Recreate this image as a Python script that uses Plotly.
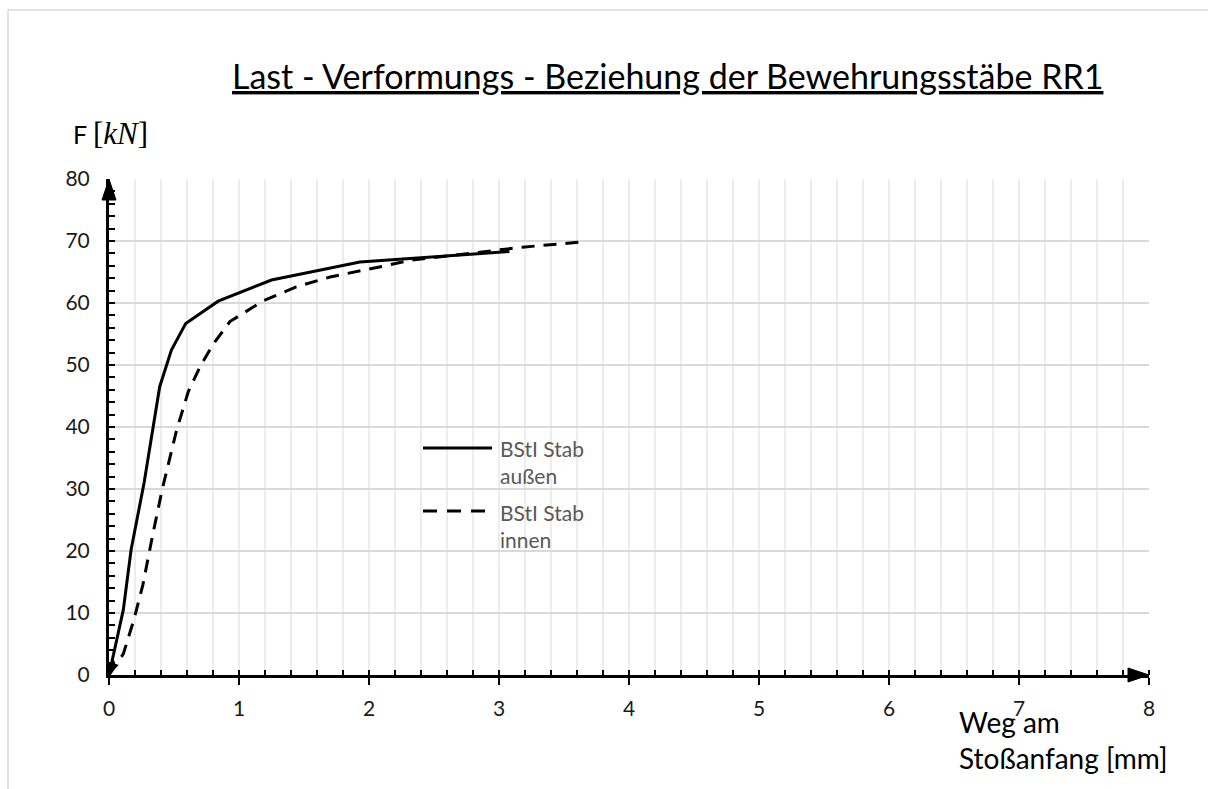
import plotly.graph_objects as go

# Last-Verformungs-Daten (Weg in mm, Last in kN)
weg_aussen = [0, 0.11, 0.17, 0.27, 0.39, 0.48, 0.59, 0.84, 1.25, 1.93, 3.08]
last_aussen = [0, 10.5, 20.2, 31.0, 46.5, 52.4, 56.7, 60.3, 63.7, 66.6, 68.3]

weg_innen = [0, 0.11, 0.19, 0.26, 0.34, 0.41, 0.52, 0.61, 0.70, 0.80, 0.93,
             1.19, 1.44, 1.70, 2.08, 2.32, 3.18, 3.61]
last_innen = [0, 3.4, 8.8, 14.5, 23.0, 30.0, 39.5, 45.7, 49.7, 53.3, 57.0,
              60.4, 62.6, 64.2, 65.8, 66.9, 69.0, 69.8]

x_ticks = [0, 1, 2, 3, 4, 5, 6, 7, 8]
y_ticks = [0, 10, 20, 30, 40, 50, 60, 70, 80]

series_names = ["BStI Stab<br>außen", "BStI Stab<br>innen"]

FONT = "Lato"
W, H = 1208, 789
L, R, T, B = 109, 59, 179, 114
PW, PH = W - L - R, H - T - B


def px_x(p):
    return (p - L) / PW


def px_y(p):
    return (H - B - p) / PH


fig = go.Figure()
fig.add_trace(go.Scatter(x=weg_aussen, y=last_aussen, mode="lines",
                         line=dict(color="black", width=3),
                         showlegend=False, name="außen"))
fig.add_trace(go.Scatter(x=weg_innen, y=last_innen, mode="lines",
                         line=dict(color="black", width=3, dash="13px,9px"),
                         showlegend=False, name="innen"))

shapes = []
# Pfeilspitzen der Achsen
shapes.append(dict(type="path", xref="paper", yref="paper",
                   path=f"M {1 - 21/PW},{7/PH} L 1,0 L {1 - 21/PW},{-7/PH} Z",
                   fillcolor="black", line=dict(color="black", width=1)))
shapes.append(dict(type="path", xref="paper", yref="paper",
                   path=f"M {-7/PW},{1 - 21/PH} L 0,1 L {7/PW},{1 - 21/PH} Z",
                   fillcolor="black", line=dict(color="black", width=1)))
# Rahmen des Diagrammbereichs
shapes.append(dict(type="line", xref="paper", yref="paper",
                   x0=px_x(8), x1=px_x(1210), y0=px_y(10), y1=px_y(10),
                   line=dict(color="#d9d9d9", width=1.5)))
shapes.append(dict(type="line", xref="paper", yref="paper",
                   x0=px_x(8), x1=px_x(8), y0=px_y(10), y1=px_y(795),
                   line=dict(color="#d9d9d9", width=1.5)))
# Legende
shapes.append(dict(type="line", xref="paper", yref="paper",
                   x0=px_x(423), x1=px_x(492), y0=px_y(448), y1=px_y(448),
                   line=dict(color="black", width=3)))
shapes.append(dict(type="line", xref="paper", yref="paper",
                   x0=px_x(423), x1=px_x(492), y0=px_y(511), y1=px_y(511),
                   line=dict(color="black", width=3, dash="14px,10px")))

annotations = []
annotations.append(dict(xref="paper", yref="paper", x=px_x(230), y=px_y(76),
                        xanchor="left", yanchor="middle", showarrow=False,
                        text="<u>Last - Verformungs - Beziehung der Bewehrungsstäbe RR1</u>",
                        font=dict(family=FONT, size=34, color="black")))
annotations.append(dict(xref="paper", yref="paper", x=px_x(71), y=px_y(133),
                        xanchor="left", yanchor="middle", showarrow=False,
                        text="F <span style='font-family:Liberation Serif;font-size:31px'>[<i>kN</i>]</span>",
                        font=dict(family=FONT, size=25, color="black")))
annotations.append(dict(xref="paper", yref="paper", x=px_x(957), y=px_y(740),
                        xanchor="left", yanchor="middle", align="left",
                        showarrow=False,
                        text="Weg am<br>Stoßanfang [mm]",
                        font=dict(family=FONT, size=28, color="black")))
annotations.append(dict(xref="paper", yref="paper", x=px_x(498), y=px_y(462),
                        xanchor="left", yanchor="middle", align="left",
                        showarrow=False, text=series_names[0],
                        font=dict(family=FONT, size=21, color="#595959")))
annotations.append(dict(xref="paper", yref="paper", x=px_x(498), y=px_y(526),
                        xanchor="left", yanchor="middle", align="left",
                        showarrow=False, text=series_names[1],
                        font=dict(family=FONT, size=21, color="#595959")))
# Anfangspfeil der durchgezogenen Kurve
annotations.append(dict(x=weg_aussen[0], y=last_aussen[0], xref="x", yref="y",
                        ax=5, ay=-16, text="", showarrow=True, arrowhead=2,
                        arrowsize=1, arrowwidth=2.5, arrowcolor="black",
                        standoff=0))

fig.update_layout(
    width=W, height=H,
    margin=dict(l=L, r=R, t=T, b=B),
    paper_bgcolor="white", plot_bgcolor="white",
    showlegend=False,
    shapes=shapes, annotations=annotations,
    font=dict(family=FONT, size=21, color="#1a1a1a"),
)
fig.update_xaxes(
    range=[0, 8], tickvals=x_ticks, showgrid=True, gridcolor="#ededed",
    gridwidth=1.5, zeroline=False, showline=True, linecolor="black",
    linewidth=3, ticks="outside", ticklen=7, tickwidth=2, tickcolor="black",
    ticklabelstandoff=6,
    tickfont=dict(family=FONT, size=21, color="#1a1a1a"),
    minor=dict(dtick=0.2, showgrid=True, gridcolor="#ededed", gridwidth=1.5,
               ticks="inside", ticklen=5, tickwidth=2, tickcolor="black"),
    fixedrange=True,
)
fig.update_yaxes(
    range=[0, 80], tickvals=y_ticks, showgrid=True, gridcolor="#d9d9d9",
    gridwidth=1.5, zeroline=False, showline=True, linecolor="black",
    linewidth=3, ticks="inside", ticklen=6, tickwidth=2, tickcolor="black",
    ticklabelstandoff=12,
    tickfont=dict(family=FONT, size=21, color="#1a1a1a"),
    minor=dict(dtick=2, showgrid=False, ticks="inside", ticklen=6,
               tickwidth=2, tickcolor="black"),
    fixedrange=True,
)

fig.write_html("out.html")
